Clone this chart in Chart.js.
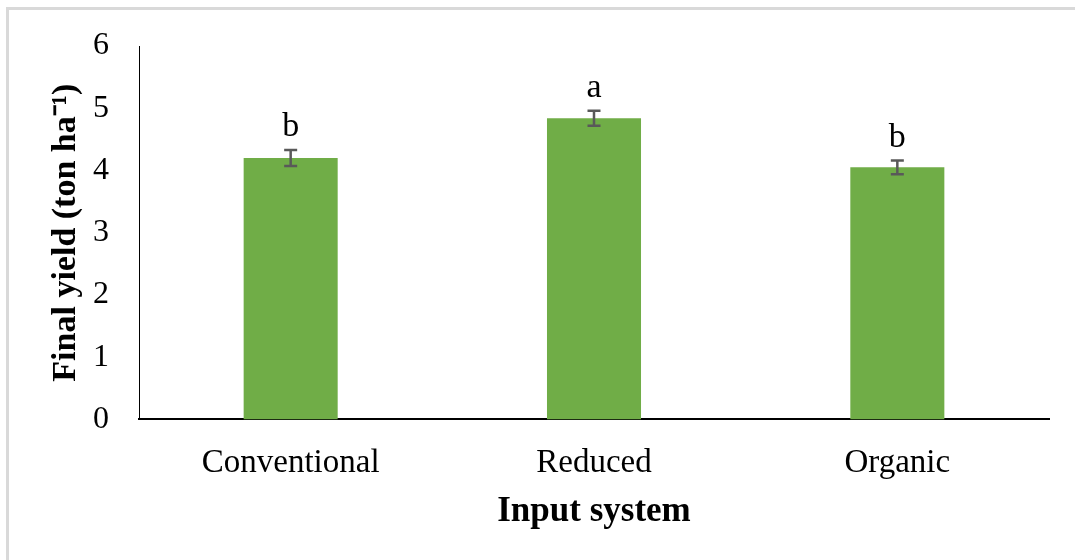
<!DOCTYPE html>
<html>
<head>
<meta charset="utf-8">
<script src="https://cdn.jsdelivr.net/npm/chart.js@4"></script>
<style>
  body { margin: 0; background: #fff; }
  #wrap { position: relative; width: 1075px; height: 560px; }
  #frame { position: absolute; left: 6px; top: 7px; width: 1075px; height: 560px;
           border-top: 3px solid #d9d9d9; border-left: 3px solid #d9d9d9; box-sizing: border-box; }
  canvas { position: absolute; left: 0; top: 0; }
</style>
</head>
<body>
<div id="wrap">
  <div id="frame"></div>
  <canvas id="grafico" width="1075" height="560"></canvas>
</div>
<script>
// dados
var sistemas = ['Conventional', 'Reduced', 'Organic'];
var produtividade = [4.20, 4.84, 4.05];
var erros = [0.13, 0.12, 0.11];
var letras = ['b', 'a', 'b'];

// plugin simples para barras de erro e letras
const barrasErro = {
  id: 'barrasErro',
  afterDatasetsDraw(chart) {
    const ctx = chart.ctx;
    const meta = chart.getDatasetMeta(0);
    const y = chart.scales.y;
    ctx.save();
    for (let i = 0; i < produtividade.length; i++) {
      const x = meta.data[i].x;
      const topo = y.getPixelForValue(produtividade[i] + erros[i]);
      const base = y.getPixelForValue(produtividade[i] - erros[i]);
      ctx.strokeStyle = '#595959';
      ctx.lineWidth = 2.5;
      ctx.beginPath();
      ctx.moveTo(x, topo); ctx.lineTo(x, base);
      ctx.moveTo(x - 6.5, topo); ctx.lineTo(x + 6.5, topo);
      ctx.moveTo(x - 6.5, base); ctx.lineTo(x + 6.5, base);
      ctx.stroke();
      ctx.fillStyle = '#000';
      ctx.font = '34px "Liberation Serif"';
      ctx.textAlign = 'center';
      ctx.textBaseline = 'alphabetic';
      ctx.fillText(letras[i], x, topo - 14);
    }
    ctx.restore();
  }
};

const data = {
  labels: sistemas,
  datasets: [{
    data: produtividade,
    backgroundColor: '#70ad47',
    borderWidth: 0,
    categoryPercentage: 1,
    barPercentage: 0.31
  }]
};

const config = {
  type: 'bar',
  data: data,
  options: {
    responsive: false,
    animation: false,
    layout: { padding: { left: 42, right: 26, top: 39, bottom: 23 } },
    plugins: { legend: { display: false }, tooltip: { enabled: false } },
    scales: {
      x: {
        grid: { display: false, drawTicks: false },
        border: { display: true, color: '#000', width: 2 },
        ticks: { color: '#000', font: { family: 'Liberation Serif', size: 33 }, padding: 24 },
        title: { display: true, text: 'Input system', color: '#000',
                 font: { family: 'Liberation Serif', size: 35, weight: 'bold' }, padding: { top: -16, bottom: 4 } }
      },
      y: {
        min: 0, max: 6,
        afterFit: function (scale) { scale.width = 97; }, // largura fixa do eixo
        grid: { display: false, drawTicks: false },
        border: { display: true, color: '#000', width: 1 },
        ticks: { stepSize: 1, color: '#000', font: { family: 'Liberation Serif', size: 32, lineHeight: 1 }, padding: 30 },
        title: { display: true, text: 'Final yield (ton ha⁻¹)', color: '#000',
                 font: { family: 'Liberation Serif', size: 34, weight: 'bold' }, padding: { top: 4, bottom: 2 } }
      }
    }
  },
  plugins: [barrasErro]
};

const myChart = new Chart(document.getElementById('grafico'), config);
</script>
</body>
</html>
